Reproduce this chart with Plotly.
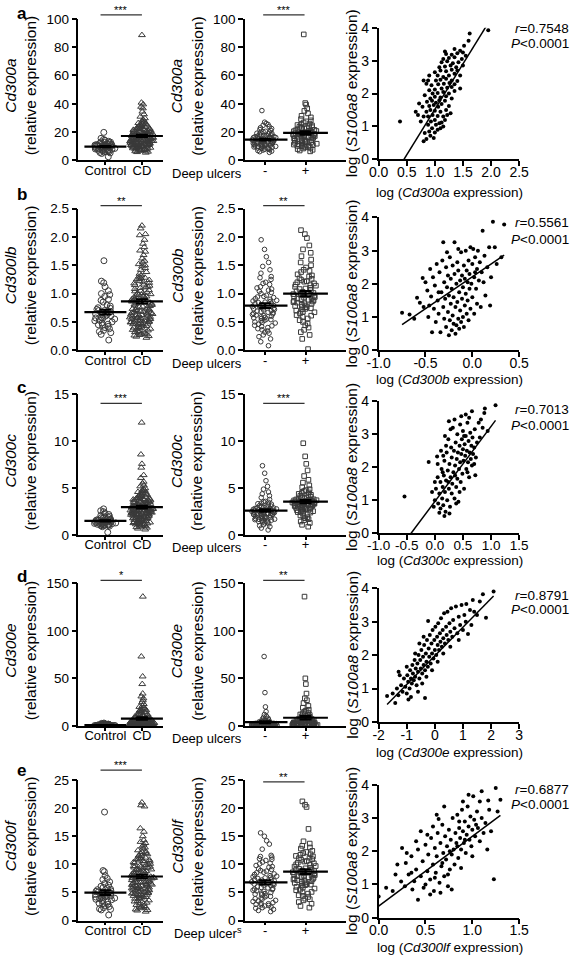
import numpy as np
import plotly.graph_objects as go

FONT = "Arial, Liberation Sans, Helvetica, sans-serif"
W, H = 584, 965

# ---------------- data ----------------
row_letters = ["a", "b", "c", "d", "e"]
gene_col1 = ["Cd300a", "Cd300lb", "Cd300c", "Cd300e", "Cd300f"]
gene_col2 = ["Cd300a", "Cd300b", "Cd300c", "Cd300e", "Cd300lf"]
gene_col3 = ["Cd300a", "Cd300b", "Cd300c", "Cd300e", "Cd300lf"]
group_labels_1 = ["Control", "CD"]
group_labels_2 = ["-", "+"]
sig_col1 = ["***", "**", "***", "*", "***"]
sig_col2 = ["***", "**", "***", "**", "**"]
r_values = ["0.7548", "0.5561", "0.7013", "0.8791", "0.6877"]
fit_slope = [2.76, 1.92, 2.28, 0.856, 2.10]
fit_intercept = [-1.24, 2.21, 0.96, 1.977, 0.35]

strip_yrange = [(0, 100, 20, ""), (0, 2.5, 0.5, ".1f"), (0, 15, 5, ""), (0, 150, 50, ""), (0, 25, 5, "")]
scat_xrange = [(0, 2.5, 0.5, 1), (-1, 0.5, 0.5, 1), (-1, 1.5, 0.5, 1), (-2, 3, 1, 0), (0, 1.5, 0.5, 1)]

ctrl_a = [19.8, 15.6, 14.8, 14.2, 13.5, 13.1, 12.7, 12.4, 12.0, 11.8, 11.5, 11.2, 11.0, 10.8, 10.6, 10.4, 10.2, 10.0, 9.9, 9.7, 9.5, 9.3, 9.1, 8.9, 8.7, 8.5, 8.3, 8.1, 7.9, 7.7, 7.5, 7.2, 7.0, 6.8, 6.5, 6.2, 5.9, 5.6, 5.3, 4.9, 2.6, 10.3, 9.6, 11.4, 12.9]
cd_a = [88.5, 40.8, 39.6, 37.9, 36.8, 34.5, 32.6, 30.9, 29.8, 28.7, 28.1, 27.5, 26.9, 26.4, 25.9, 25.5, 25.0, 24.6, 24.2, 23.8, 23.5, 23.1, 22.8, 22.5, 22.2, 21.9, 21.6, 21.3, 21.0, 20.8, 20.5, 20.3, 20.1, 19.8, 19.6, 19.4, 19.2, 19.0, 18.8, 18.6, 18.4, 18.2, 18.0, 17.8, 17.6, 17.4, 17.2, 17.0, 16.8, 16.6, 16.5, 16.3, 16.1, 15.9, 15.8, 15.6, 15.4, 15.2, 15.1, 14.9, 14.7, 14.6, 14.4, 14.2, 14.1, 13.9, 13.8, 13.6, 13.4, 13.3, 13.1, 13.0, 12.8, 12.7, 12.5, 12.4, 12.2, 12.1, 11.9, 11.8, 11.6, 11.5, 11.3, 11.2, 11.0, 10.9, 10.7, 10.6, 10.4, 10.3, 10.1, 10.0, 9.8, 9.7, 9.5, 9.4, 9.2, 9.0, 8.8, 8.6, 8.4, 8.2, 8.0, 7.8, 7.6, 7.4, 7.2, 7.0, 6.8, 6.5, 6.2, 5.9, 5.5, 17.5, 18.5, 16.0, 14.0, 12.0, 19.5, 20.7, 22.0, 15.5, 13.5, 11.5, 10.5, 9.9, 16.7, 18.9, 21.5, 24.5, 26.1, 23.3, 17.9, 14.5, 12.6, 11.1, 13.7, 15.0]
neg_a = [35.2, 27.0, 26.1, 25.4, 24.8, 23.9, 23.1, 22.5, 21.8, 21.2, 20.6, 20.1, 19.7, 19.2, 18.8, 18.4, 18.0, 17.6, 17.3, 17.0, 16.7, 16.4, 16.1, 15.8, 15.5, 15.3, 15.0, 14.8, 14.5, 14.3, 14.0, 13.8, 13.6, 13.3, 13.1, 12.9, 12.7, 12.5, 12.3, 12.1, 11.9, 11.7, 11.5, 11.3, 11.1, 10.9, 10.7, 10.5, 10.3, 10.1, 9.9, 9.7, 9.5, 9.3, 9.0, 8.8, 8.5, 8.2, 7.9, 7.6, 7.3, 7.0, 6.6, 6.2, 5.7, 16.2, 14.6, 13.5, 15.9, 17.8, 12.0, 10.8, 19.0, 14.1, 11.6, 16.9, 13.9, 15.2, 20.3, 9.2]
pos_a = [89.0, 40.5, 39.4, 36.8, 35.0, 33.2, 31.5, 30.4, 29.2, 28.3, 27.6, 26.8, 26.0, 25.3, 24.7, 24.1, 23.5, 23.0, 22.5, 22.0, 21.6, 21.2, 20.8, 20.4, 20.0, 19.6, 19.3, 19.0, 18.7, 18.4, 18.1, 17.8, 17.5, 17.2, 16.9, 16.6, 16.3, 16.0, 15.7, 15.4, 15.1, 14.8, 14.5, 14.2, 13.9, 13.6, 13.3, 13.0, 12.7, 12.4, 12.1, 11.8, 11.5, 11.2, 10.9, 10.6, 10.3, 10.0, 9.6, 9.2, 8.8, 8.4, 8.0, 7.5, 7.0, 6.4, 19.8, 18.2, 20.6, 22.8, 17.1, 15.5, 21.0, 23.8, 16.7, 14.0, 12.9, 18.9, 25.0, 11.0]

ctrl_b = [1.58, 1.22, 1.19, 1.12, 1.05, 1.00, 0.98, 0.95, 0.90, 0.85, 0.80, 0.78, 0.75, 0.72, 0.70, 0.68, 0.66, 0.65, 0.63, 0.62, 0.60, 0.58, 0.56, 0.55, 0.53, 0.52, 0.50, 0.48, 0.46, 0.44, 0.42, 0.40, 0.38, 0.35, 0.33, 0.31, 0.28, 0.18, 0.70, 0.64, 0.57, 0.88, 0.74, 0.45, 0.61]
cd_b = [2.20, 2.15, 2.05, 2.03, 1.95, 1.88, 1.82, 1.76, 1.74, 1.68, 1.62, 1.58, 1.55, 1.52, 1.50, 1.48, 1.45, 1.42, 1.38, 1.35, 1.32, 1.30, 1.28, 1.26, 1.24, 1.22, 1.20, 1.18, 1.16, 1.14, 1.12, 1.10, 1.08, 1.06, 1.04, 1.02, 1.00, 0.99, 0.97, 0.95, 0.94, 0.92, 0.91, 0.89, 0.88, 0.86, 0.85, 0.84, 0.82, 0.81, 0.80, 0.78, 0.77, 0.76, 0.74, 0.73, 0.72, 0.70, 0.69, 0.68, 0.67, 0.66, 0.64, 0.63, 0.62, 0.61, 0.60, 0.59, 0.58, 0.57, 0.56, 0.55, 0.54, 0.53, 0.52, 0.51, 0.50, 0.49, 0.48, 0.47, 0.46, 0.45, 0.44, 0.43, 0.42, 0.41, 0.40, 0.39, 0.38, 0.37, 0.36, 0.35, 0.34, 0.33, 0.32, 0.31, 0.30, 0.29, 0.28, 0.27, 0.26, 0.25, 0.24, 0.22, 0.90, 0.87, 0.83, 0.79, 0.75, 0.71, 0.65, 0.60, 0.58, 0.55, 0.52, 0.49, 0.46, 0.62, 0.66, 0.93, 1.01, 1.11, 1.19, 1.25, 0.96, 0.84, 0.72, 0.63, 0.57, 0.53, 0.50, 0.47, 1.05, 1.15, 1.27, 0.98, 0.86, 0.68]
neg_b = [1.95, 1.78, 1.65, 1.55, 1.48, 1.42, 1.36, 1.30, 1.25, 1.20, 1.16, 1.12, 1.08, 1.04, 1.00, 0.97, 0.94, 0.91, 0.88, 0.86, 0.84, 0.82, 0.80, 0.78, 0.76, 0.74, 0.72, 0.70, 0.68, 0.66, 0.64, 0.62, 0.60, 0.58, 0.56, 0.54, 0.52, 0.50, 0.48, 0.46, 0.44, 0.42, 0.40, 0.38, 0.36, 0.34, 0.32, 0.30, 0.27, 0.24, 0.20, 0.15, 0.08, 0.85, 0.77, 0.69, 0.61, 0.55, 0.90, 0.95, 1.02, 1.10, 0.73, 0.65, 0.57, 0.49, 0.43, 1.18, 1.28, 0.83, 0.79, 0.71, 0.63, 0.59, 0.87, 0.93, 0.67, 0.53, 0.75, 1.06]
pos_b = [2.12, 2.05, 1.98, 1.85, 1.78, 1.72, 1.66, 1.60, 1.55, 1.50, 1.46, 1.42, 1.38, 1.34, 1.30, 1.27, 1.24, 1.21, 1.18, 1.15, 1.12, 1.09, 1.06, 1.03, 1.00, 0.98, 0.96, 0.94, 0.92, 0.90, 0.88, 0.86, 0.84, 0.82, 0.80, 0.78, 0.76, 0.74, 0.72, 0.70, 0.68, 0.65, 0.62, 0.59, 0.56, 0.53, 0.50, 0.47, 0.44, 0.40, 0.36, 0.32, 0.27, 0.20, 0.02, 1.01, 0.97, 0.93, 0.89, 1.08, 1.14, 1.20, 1.26, 0.85, 0.79, 0.73, 1.32, 1.40, 0.99, 1.04, 0.91, 0.83, 0.67, 1.10, 1.16, 0.95, 0.87, 1.22, 0.77, 0.61]

ctrl_c = [2.8, 2.6, 2.5, 2.35, 2.2, 2.1, 2.0, 1.95, 1.9, 1.85, 1.8, 1.75, 1.7, 1.65, 1.62, 1.58, 1.55, 1.52, 1.5, 1.48, 1.45, 1.42, 1.4, 1.38, 1.35, 1.32, 1.3, 1.28, 1.25, 1.22, 1.2, 1.18, 1.15, 1.12, 1.1, 1.08, 1.05, 1.02, 1.0, 0.95, 0.9, 0.3, 1.6, 1.47, 1.36]
cd_c = [12.0, 8.6, 7.6, 7.2, 6.4, 6.1, 5.7, 5.5, 5.3, 5.2, 5.0, 4.9, 4.8, 4.7, 4.6, 4.5, 4.4, 4.3, 4.2, 4.1, 4.0, 3.95, 3.9, 3.85, 3.8, 3.75, 3.7, 3.65, 3.6, 3.55, 3.5, 3.45, 3.4, 3.35, 3.3, 3.25, 3.2, 3.15, 3.1, 3.05, 3.0, 2.97, 2.94, 2.91, 2.88, 2.85, 2.82, 2.79, 2.76, 2.73, 2.7, 2.67, 2.64, 2.61, 2.58, 2.55, 2.52, 2.49, 2.46, 2.43, 2.4, 2.37, 2.34, 2.31, 2.28, 2.25, 2.22, 2.19, 2.16, 2.13, 2.1, 2.06, 2.02, 1.98, 1.94, 1.9, 1.86, 1.82, 1.78, 1.74, 1.7, 1.65, 1.6, 1.55, 1.5, 1.45, 1.4, 1.35, 1.3, 1.25, 1.2, 1.15, 1.1, 1.05, 1.0, 0.95, 0.9, 0.85, 0.8, 0.7, 0.6, 2.9, 2.8, 3.02, 3.12, 3.22, 2.72, 2.62, 2.53, 3.32, 3.42, 2.44, 2.35, 3.52, 3.62, 2.26, 2.17, 3.72, 3.82, 2.08, 1.99, 3.92, 4.05, 1.88, 1.79, 4.15, 4.25, 1.69, 1.58, 4.35, 4.55, 1.48, 1.38, 4.75, 2.98, 3.08, 2.68, 2.58, 1.28, 1.18]
neg_c = [7.4, 6.6, 5.8, 5.2, 4.9, 4.6, 4.4, 4.2, 4.0, 3.8, 3.6, 3.5, 3.4, 3.3, 3.2, 3.1, 3.0, 2.95, 2.9, 2.85, 2.8, 2.75, 2.7, 2.65, 2.6, 2.55, 2.5, 2.45, 2.4, 2.35, 2.3, 2.25, 2.2, 2.15, 2.1, 2.05, 2.0, 1.95, 1.9, 1.85, 1.8, 1.75, 1.7, 1.65, 1.6, 1.55, 1.5, 1.45, 1.4, 1.35, 1.3, 1.2, 1.1, 1.0, 0.9, 0.75, 0.55, 2.52, 2.42, 2.32, 2.62, 2.72, 2.22, 2.12, 2.82, 2.92, 3.05, 1.98, 1.88, 3.15, 2.48, 2.38, 2.58, 2.68, 2.18, 1.78, 3.35, 3.55, 1.68, 2.28]
pos_c = [9.8, 8.4, 7.6, 6.9, 6.3, 5.9, 5.6, 5.3, 5.1, 4.9, 4.7, 4.5, 4.4, 4.3, 4.2, 4.1, 4.0, 3.9, 3.8, 3.75, 3.7, 3.65, 3.6, 3.55, 3.5, 3.45, 3.4, 3.35, 3.3, 3.25, 3.2, 3.15, 3.1, 3.05, 3.0, 2.95, 2.9, 2.85, 2.8, 2.75, 2.7, 2.65, 2.6, 2.5, 2.4, 2.3, 2.2, 2.1, 2.0, 1.9, 1.8, 1.7, 1.6, 1.45, 1.3, 1.1, 0.9, 3.52, 3.42, 3.62, 3.32, 3.72, 3.22, 3.82, 3.12, 3.92, 3.02, 4.05, 2.92, 4.25, 2.82, 3.48, 3.38, 3.58, 4.55, 2.55, 3.28, 3.68, 4.8, 2.45]

ctrl_d = [3.0, 2.6, 2.3, 2.1, 1.9, 1.8, 1.6, 1.5, 1.4, 1.3, 1.2, 1.1, 1.0, 0.95, 0.9, 0.85, 0.8, 0.75, 0.7, 0.65, 0.6, 0.55, 0.5, 0.45, 0.4, 0.38, 0.35, 0.32, 0.3, 0.28, 0.25, 0.22, 0.2, 0.18, 0.15, 0.12, 0.1, 0.08, 0.6, 0.9, 1.15, 0.42, 0.7, 1.7, 0.33]
cd_d = [136, 73, 52, 44, 34, 31, 29, 27, 25, 23, 21, 20, 19, 18, 17.5, 17, 16.5, 16, 15.5, 15, 14.5, 14, 13, 12, 11.5, 11, 10.5, 10, 9.5, 9, 8.5, 8, 7.6, 7.2, 6.8, 6.4, 6.0, 5.7, 5.4, 5.1, 4.8, 4.6, 4.4, 4.2, 4.0, 3.8, 3.6, 3.4, 3.2, 3.0, 2.9, 2.8, 2.7, 2.6, 2.5, 2.4, 2.3, 2.2, 2.1, 2.0, 1.9, 1.8, 1.7, 1.6, 1.5, 1.45, 1.4, 1.35, 1.3, 1.25, 1.2, 1.15, 1.1, 1.05, 1.0, 0.95, 0.9, 0.85, 0.8, 0.75, 0.7, 0.65, 0.6, 0.55, 0.5, 0.45, 0.4, 0.35, 0.3, 0.25, 0.2, 0.15, 0.1, 5.5, 4.9, 4.3, 3.7, 3.1, 2.65, 2.35, 2.05, 1.75, 1.55, 1.32, 1.12, 0.98, 0.82, 0.68, 0.52, 0.38, 0.28, 7.0, 6.2, 5.8, 3.3, 2.75, 2.15, 1.65, 1.22, 0.88, 0.62, 0.42, 12.5, 9.8, 8.8, 6.6, 3.9, 3.5, 2.45, 1.85, 1.48, 1.08, 0.72, 0.48, 0.32, 0.18]
neg_d = [73, 35, 20, 15, 12, 10, 8, 7, 6, 5.5, 5, 4.5, 4, 3.6, 3.3, 3.0, 2.8, 2.6, 2.4, 2.2, 2.0, 1.9, 1.8, 1.7, 1.6, 1.5, 1.4, 1.3, 1.2, 1.1, 1.0, 0.95, 0.9, 0.85, 0.8, 0.75, 0.7, 0.65, 0.6, 0.55, 0.5, 0.45, 0.4, 0.35, 0.3, 0.25, 0.2, 0.15, 0.1, 2.1, 1.75, 1.45, 1.15, 0.88, 0.62, 0.42, 0.28, 3.8, 2.9, 2.3, 1.65, 1.25, 0.98, 0.72, 0.52, 0.32, 0.18, 4.2, 3.2, 2.5, 1.95, 1.55, 1.05, 0.78, 0.58, 0.38, 9, 6.5, 2.7, 1.35]
pos_d = [136, 50, 44, 34, 29, 27, 24, 21, 19, 17, 15, 14, 13, 12, 11, 10, 9, 8.5, 8, 7.5, 7, 6.5, 6, 5.5, 5, 4.6, 4.2, 3.8, 3.5, 3.2, 3.0, 2.8, 2.6, 2.4, 2.2, 2.0, 1.8, 1.6, 1.4, 1.2, 1.0, 0.9, 0.8, 0.7, 0.6, 0.5, 0.4, 0.3, 0.2, 4.4, 3.6, 2.9, 2.3, 1.9, 1.5, 1.1, 0.85, 0.65, 0.45, 6.2, 5.2, 3.3, 2.7, 2.1, 1.7, 1.3, 0.95, 0.75, 0.55, 0.35, 16, 11.5, 9.5, 7.2, 4.8, 3.9, 2.5, 1.45, 1.05, 0.25]

ctrl_e = [19.3, 8.9, 8.7, 8.0, 7.5, 7.3, 6.9, 6.6, 6.3, 6.1, 5.9, 5.7, 5.5, 5.3, 5.1, 5.0, 4.9, 4.8, 4.7, 4.6, 4.5, 4.4, 4.3, 4.2, 4.1, 4.0, 3.9, 3.7, 3.5, 3.3, 3.1, 2.9, 2.7, 2.5, 2.3, 2.1, 2.0, 1.9, 1.0, 4.65, 5.2, 3.8, 4.25, 5.6, 3.0]
cd_e = [21.0, 20.5, 20.3, 16.4, 15.8, 15.0, 14.3, 14.0, 13.8, 13.5, 13.2, 13.0, 12.8, 12.5, 12.3, 12.0, 11.8, 11.6, 11.4, 11.2, 11.0, 10.8, 10.6, 10.4, 10.2, 10.0, 9.8, 9.6, 9.4, 9.2, 9.0, 8.8, 8.6, 8.4, 8.2, 8.0, 7.9, 7.8, 7.7, 7.6, 7.5, 7.4, 7.3, 7.2, 7.1, 7.0, 6.9, 6.8, 6.7, 6.6, 6.5, 6.4, 6.3, 6.2, 6.1, 6.0, 5.9, 5.8, 5.7, 5.6, 5.5, 5.4, 5.3, 5.2, 5.1, 5.0, 4.9, 4.8, 4.7, 4.6, 4.5, 4.4, 4.3, 4.2, 4.1, 4.0, 3.8, 3.6, 3.4, 3.2, 3.0, 2.8, 2.6, 2.4, 2.2, 2.0, 1.8, 1.6, 7.55, 7.65, 7.45, 7.35, 8.1, 8.3, 8.5, 8.7, 8.9, 9.1, 9.3, 9.5, 9.7, 9.9, 10.1, 10.3, 10.5, 10.7, 10.9, 11.1, 6.95, 6.85, 6.75, 6.55, 6.35, 6.15, 5.95, 5.75, 5.55, 5.35, 5.15, 4.95, 4.75, 4.55, 11.5, 11.9, 12.2, 8.05, 8.25, 7.85, 4.35, 3.9, 3.5, 3.1, 2.7, 2.3, 1.9, 9.05, 9.45, 7.75]
neg_e = [15.6, 15.0, 14.2, 13.6, 12.7, 11.6, 11.3, 11.0, 10.7, 10.4, 10.1, 9.8, 9.5, 9.2, 8.9, 8.6, 8.3, 8.0, 7.8, 7.6, 7.4, 7.2, 7.0, 6.8, 6.6, 6.4, 6.2, 6.0, 5.8, 5.6, 5.4, 5.2, 5.0, 4.8, 4.6, 4.4, 4.2, 4.0, 3.8, 3.6, 3.4, 3.2, 3.0, 2.8, 2.6, 2.4, 2.2, 2.0, 1.8, 1.6, 6.7, 6.5, 6.3, 6.9, 7.1, 5.9, 5.7, 7.3, 7.5, 5.5, 5.3, 7.7, 7.9, 8.2, 4.9, 4.7, 8.5, 8.8, 4.3, 3.9, 9.1, 9.6, 3.5, 3.1, 10.2, 10.9, 2.7, 2.3, 11.4, 2.9]
pos_e = [21.2, 20.6, 20.2, 16.3, 14.1, 13.7, 13.3, 12.8, 12.4, 12.0, 11.7, 11.4, 11.1, 10.8, 10.5, 10.2, 9.9, 9.6, 9.3, 9.0, 8.8, 8.6, 8.4, 8.2, 8.0, 7.8, 7.6, 7.4, 7.2, 7.0, 6.8, 6.6, 6.4, 6.2, 6.0, 5.7, 5.4, 5.1, 4.8, 4.5, 4.2, 3.9, 3.6, 3.3, 3.0, 2.6, 2.3, 8.7, 8.5, 8.9, 8.3, 9.1, 8.1, 9.4, 7.9, 9.7, 7.7, 10.0, 7.5, 10.3, 7.3, 10.6, 7.1, 10.9, 6.9, 11.2, 6.7, 11.5, 6.5, 11.8, 6.3, 12.2, 5.9, 5.5, 5.0, 4.4, 3.8, 13.0, 9.2, 8.0]

# log-log correlation points (x = log Cd300 gene, y = log S100a8)
sc_a = [(0.80,0.55),(0.85,0.62),(0.92,0.72),(0.98,0.65),(0.82,0.80),(0.90,0.85),(1.00,0.82),(1.05,0.90),(1.10,0.95),(1.15,1.00),
        (0.95,0.95),(0.88,1.05),(1.02,1.05),(1.08,1.10),(1.12,1.12),(0.75,1.15),(0.38,1.15),(0.93,1.15),(1.18,1.20),(1.00,1.20),
        (0.70,1.35),(0.80,1.30),(0.88,1.30),(0.96,1.35),(1.05,1.32),(1.15,1.30),(1.22,1.35),(0.66,1.45),(0.85,1.45),(0.92,1.50),
        (1.00,1.48),(1.10,1.45),(1.20,1.50),(1.28,1.40),(0.78,1.60),(0.90,1.62),(0.98,1.65),(1.06,1.60),(1.12,1.68),(1.25,1.62),
        (0.72,1.70),(0.86,1.75),(0.95,1.78),(1.02,1.72),(1.18,1.78),(1.08,1.80),(0.92,1.85),(1.00,1.90),(1.10,1.88),(1.20,1.92),
        (1.30,1.85),(0.82,1.95),(0.96,2.00),(1.05,2.02),(1.15,2.05),(1.25,2.00),(1.35,2.08),(0.90,2.10),(1.00,2.12),(1.12,2.15),
        (1.22,2.18),(1.30,2.20),(1.45,2.15),(0.94,2.25),(1.06,2.28),(1.16,2.30),(1.26,2.32),(1.35,2.28),(0.80,2.40),(1.02,2.40),
        (1.10,2.42),(1.20,2.45),(1.30,2.40),(1.40,2.38),(0.90,2.55),(1.15,2.50),(1.05,2.55),(1.25,2.55),(1.35,2.60),(1.45,2.55),
        (1.00,2.65),(1.10,2.70),(1.20,2.68),(1.30,2.72),(1.40,2.70),(1.08,2.80),(1.18,2.82),(1.28,2.85),(1.38,2.80),(1.50,2.85),
        (1.12,2.95),(1.22,2.98),(1.32,2.92),(1.42,2.95),(1.15,3.05),(1.25,3.08),(1.35,3.10),(1.48,3.05),(1.20,3.20),(1.30,3.18),
        (1.40,3.22),(1.50,3.25),(1.55,3.15),(1.18,3.28),(1.45,3.30),(1.35,3.35),(1.52,3.45),(1.60,3.60),(1.62,3.82),(1.95,3.92),
        (0.88,2.40),(0.85,2.30)]
sc_b = [(-0.75,1.13),(-0.67,1.08),(-0.62,0.95),(-0.59,1.58),(-0.56,1.43),(-0.53,2.18),(-0.50,2.05),(-0.52,1.30),(-0.48,1.80),(-0.47,1.00),
        (-0.45,2.45),(-0.44,1.62),(-0.43,0.54),(-0.42,2.20),(-0.41,1.25),(-0.40,1.95),(-0.39,0.85),(-0.38,2.60),(-0.37,1.50),(-0.36,1.10),
        (-0.35,2.35),(-0.34,0.54),(-0.33,1.75),(-0.32,2.70),(-0.31,3.25),(-0.31,1.30),(-0.30,2.05),(-0.30,0.95),(-0.29,1.55),(-0.28,2.50),
        (-0.28,0.70),(-0.27,1.90),(-0.26,2.25),(-0.26,1.15),(-0.25,0.45),(-0.25,1.65),(-0.24,2.80),(-0.24,0.90),(-0.23,1.40),(-0.23,2.15),
        (-0.22,0.60),(-0.22,1.85),(-0.21,2.55),(-0.21,1.05),(-0.20,0.80),(-0.20,1.60),(-0.19,3.25),(-0.19,2.30),(-0.18,0.50),(-0.18,1.30),
        (-0.17,2.00),(-0.17,0.75),(-0.16,2.65),(-0.16,1.45),(-0.15,0.95),(-0.15,2.40),(-0.14,1.75),(-0.14,0.65),(-0.13,2.10),(-0.13,1.20),
        (-0.12,2.95),(-0.12,0.85),(-0.11,1.55),(-0.11,2.25),(-0.10,1.00),(-0.10,1.90),(-0.09,2.55),(-0.09,0.70),(-0.08,1.35),(-0.08,2.15),
        (-0.07,3.00),(-0.07,1.70),(-0.06,2.40),(-0.06,1.10),(-0.05,2.05),(-0.05,1.50),(-0.04,2.70),(-0.04,0.90),(-0.03,1.85),(-0.03,2.30),
        (-0.02,3.10),(-0.02,1.25),(-0.01,2.00),(0.00,2.60),(0.00,1.60),(0.01,3.05),(0.02,2.20),(0.02,1.10),(0.03,2.80),(0.04,1.85),
        (0.05,2.45),(0.05,1.40),(0.06,3.00),(0.07,2.10),(0.08,2.65),(0.09,1.30),(0.10,2.35),(0.11,3.60),(0.12,2.05),(0.13,2.85),
        (0.14,1.65),(0.16,2.50),(0.18,3.10),(0.19,1.35),(0.20,2.20),(0.22,3.87),(0.24,3.10),(0.26,2.60),(0.31,2.80),(0.34,3.79),
        (-0.36,1.75),(-0.27,2.95),(-0.15,3.05),(0.03,2.35),(-0.46,1.35)]
sc_c = [(-0.54,1.11),(-0.11,2.16),(0.04,2.33),(0.89,3.78),(1.08,3.88),(0.88,3.65),(0.61,3.50),(0.94,3.10),(0.72,1.76),(0.17,0.52),
        (0.08,0.62),(0.00,1.00),(0.02,1.35),(0.05,1.70),(0.06,0.90),(0.08,1.20),(0.10,1.55),(0.10,0.75),(0.12,1.95),(0.13,1.05),
        (0.14,1.40),(0.15,0.85),(0.16,1.75),(0.17,2.20),(0.18,1.25),(0.19,0.65),(0.20,1.60),(0.21,2.45),(0.22,1.00),(0.23,1.90),
        (0.24,2.85),(0.25,1.35),(0.26,2.10),(0.27,0.80),(0.28,1.70),(0.29,2.60),(0.30,1.20),(0.30,2.30),(0.31,1.50),(0.32,3.20),
        (0.33,1.85),(0.34,2.50),(0.35,1.05),(0.36,2.05),(0.37,2.75),(0.38,1.40),(0.39,2.25),(0.40,3.00),(0.40,1.65),(0.41,2.45),
        (0.42,0.95),(0.43,1.95),(0.44,2.65),(0.45,3.30),(0.45,2.15),(0.46,1.55),(0.47,2.40),(0.48,2.85),(0.49,1.80),(0.50,2.55),
        (0.50,3.10),(0.51,2.20),(0.52,1.35),(0.53,2.70),(0.54,2.35),(0.55,2.95),(0.56,1.95),(0.57,2.50),(0.58,3.35),(0.59,2.15),
        (0.60,2.80),(0.61,1.70),(0.62,2.45),(0.63,3.05),(0.64,2.25),(0.65,2.65),(0.66,2.05),(0.67,2.90),(0.68,2.40),(0.70,2.60),
        (0.71,3.15),(0.73,2.30),(0.75,2.75),(0.78,3.35),(0.80,2.90),(0.82,3.45),(0.85,3.20),(0.47,3.55),(0.35,3.45),(0.25,3.40),
        (0.20,2.65),(0.15,2.35),(0.05,2.10),(0.00,1.55),(-0.05,1.25),(-0.02,0.80),(0.11,2.50),(0.18,2.95),(0.28,3.15),(0.55,3.60),
        (0.66,3.70),(0.38,0.90),(0.26,0.60),(0.44,1.25),(0.58,1.85),(0.70,2.10),(0.36,1.75),(0.24,1.55),(0.14,1.85),(0.52,2.95)]
sc_d = [(2.09,3.90),(1.71,3.82),(1.12,3.53),(1.82,3.12),(1.18,2.63),(-0.24,3.02),(-1.29,1.50),(-1.41,0.57),(-1.70,0.78),(-0.94,0.67),
        (-0.35,0.72),(-1.50,0.85),(-1.35,1.00),(-1.30,0.80),(-1.20,1.10),(-1.15,0.90),(-1.10,1.30),(-1.05,1.05),(-1.00,0.85),(-0.98,1.40),
        (-0.95,1.20),(-0.90,1.00),(-0.88,1.55),(-0.85,1.30),(-0.82,1.15),(-0.80,1.70),(-0.78,1.45),(-0.75,1.25),(-0.72,1.85),(-0.70,1.35),
        (-0.68,1.60),(-0.65,1.10),(-0.62,1.75),(-0.60,1.50),(-0.58,2.00),(-0.55,1.30),(-0.52,1.85),(-0.50,1.60),(-0.48,2.15),(-0.45,1.45),
        (-0.42,1.95),(-0.40,1.70),(-0.38,2.30),(-0.35,1.55),(-0.32,2.05),(-0.30,1.80),(-0.28,2.45),(-0.25,1.65),(-0.22,2.20),(-0.20,1.95),
        (-0.18,2.60),(-0.15,1.75),(-0.12,2.35),(-0.10,2.05),(-0.08,2.75),(-0.05,1.90),(-0.02,2.45),(0.00,2.15),(0.02,2.85),(0.05,2.00),
        (0.08,2.55),(0.10,2.30),(0.12,2.95),(0.15,2.15),(0.18,2.65),(0.20,2.40),(0.22,3.10),(0.25,2.25),(0.28,2.75),(0.30,2.50),
        (0.33,3.25),(0.36,2.35),(0.40,2.85),(0.42,2.60),(0.45,3.30),(0.48,2.45),(0.52,2.95),(0.55,2.70),(0.58,3.40),(0.62,2.55),
        (0.65,3.05),(0.70,2.80),(0.75,3.45),(0.80,2.65),(0.85,3.15),(0.90,2.90),(0.95,3.50),(1.00,2.75),(1.05,3.20),(1.10,3.00),
        (1.25,3.35),(1.30,2.90),(1.40,3.30),(1.50,3.20),(1.60,3.60),(1.35,3.65),(-0.60,0.90),(-0.45,1.15),(-0.30,1.35),(-0.10,1.55),
        (-1.00,1.65),(-0.70,2.05),(-0.55,2.35),(0.10,1.80),(0.30,2.05),(0.55,2.25),(-1.25,1.40),(-0.85,0.75),(0.85,2.45),(-0.40,2.55)]
sc_e = [(1.25,3.91),(1.10,3.81),(1.01,3.66),(1.17,3.53),(1.27,3.20),(1.23,1.16),(0.64,2.97),(0.20,1.60),(0.29,1.65),(0.42,0.54),
        (0.00,0.64),(0.24,1.09),(0.28,0.95),(0.32,1.30),(0.35,1.85),(0.38,1.10),(0.40,1.45),(0.42,2.05),(0.45,1.25),(0.47,1.70),
        (0.48,0.90),(0.50,2.20),(0.52,1.40),(0.53,1.90),(0.55,1.15),(0.56,2.40),(0.58,1.60),(0.59,0.80),(0.60,2.10),(0.61,1.35),
        (0.62,1.85),(0.63,2.55),(0.65,1.05),(0.66,2.25),(0.67,1.55),(0.68,2.80),(0.69,1.95),(0.70,1.25),(0.71,2.45),(0.72,1.75),
        (0.73,2.15),(0.74,0.95),(0.75,2.65),(0.76,1.45),(0.77,2.35),(0.78,1.90),(0.79,3.00),(0.80,2.05),(0.81,1.60),(0.82,2.55),
        (0.83,2.25),(0.84,3.10),(0.85,1.80),(0.86,2.70),(0.87,2.40),(0.88,2.05),(0.89,3.25),(0.90,2.60),(0.91,2.25),(0.92,2.90),
        (0.93,1.95),(0.94,2.50),(0.95,3.35),(0.96,2.75),(0.97,2.35),(0.98,3.05),(0.99,2.15),(1.00,2.65),(1.02,2.95),(1.03,2.45),
        (1.05,3.20),(1.06,2.70),(1.08,2.30),(1.10,3.00),(1.12,2.55),(1.14,2.85),(1.16,2.05),(1.18,3.25),(1.20,2.60),(1.30,3.55),
        (0.55,0.70),(0.45,2.60),(0.35,1.35),(0.15,0.80),(0.25,2.10),(0.62,3.10),(0.70,3.35),(0.78,0.85),(0.88,1.50),(0.50,1.00),
        (0.60,1.20),(0.68,1.65),(0.76,2.00),(0.84,2.15),(0.92,2.35),(1.00,1.85),(1.08,3.50),(0.96,3.70),(0.58,2.75),(0.40,2.30),
        (0.30,1.95),(0.66,0.75),(0.74,1.30),(0.86,2.90),(1.04,2.80),(0.90,3.50),(0.52,2.50),(0.36,0.85),(0.18,1.30),(0.08,0.90)]

col1_data = [(ctrl_a, cd_a), (ctrl_b, cd_b), (ctrl_c, cd_c), (ctrl_d, cd_d), (ctrl_e, cd_e)]
col2_data = [(neg_a, pos_a), (neg_b, pos_b), (neg_c, pos_c), (neg_d, pos_d), (neg_e, pos_e)]
col3_data = [sc_a, sc_b, sc_c, sc_d, sc_e]

# ---------------- layout geometry (pixels) ----------------
strip_y = [(11, 155), (204, 348), (393, 536), (585, 730), (785, 928)]
scat_y = [(20, 154), (213, 348), (400, 534), (590, 726), (790, 925)]
col_x = [(69, 157), (242, 347), (381, 527)]
xtitle_y = [188, 378, 562, 757, 955]
letter_y = [6, 190, 386, 578, 775]
sig1_y = [7, 201, 402, 582, 775]
sig2_y = [7, 201, 402, 582, 787]
rp_y = [(21, 36), (218, 235), (408, 425), (597, 612), (795, 810)]
ytitle_x = [9, 182]


def px(x):
    return x / W


def py(y):
    return 1 - y / H


fig = go.Figure()
layout = dict(
    width=W, height=H, margin=dict(l=0, r=0, t=0, b=0),
    paper_bgcolor="white", plot_bgcolor="white", showlegend=False,
    font=dict(family=FONT, color="black", size=13),
    boxmode="overlay", boxgap=0.04,
)
annotations = []
shapes = []

AX = dict(showline=True, linecolor="black", linewidth=1.5, ticks="outside",
          tickwidth=1.5, tickcolor="black", showgrid=False, zeroline=False,
          fixedrange=True, tickangle=0)


def axname(k):
    return "" if k == 1 else str(k)


for i in range(5):
    for j in range(3):
        k = 3 * i + j + 1
        xa, ya = "x" + axname(k), "y" + axname(k)
        xd = [px(col_x[j][0]), px(col_x[j][1])]
        if j < 2:
            yd = [py(strip_y[i][1]), py(strip_y[i][0])]
            lo, hi, dt, fmt = strip_yrange[i]
            labels = group_labels_1 if j == 0 else group_labels_2
            data = col1_data[i] if j == 0 else col2_data[i]
            syms = ["circle-open", "triangle-up-open"] if j == 0 else ["circle-open", "square-open"]
            msize = 6 if j == 0 else 4.6
            for g in range(2):
                vals = np.array(data[g], dtype=float)
                fig.add_trace(go.Box(
                    x=[labels[g]] * len(vals), y=vals, xaxis=xa, yaxis=ya,
                    boxpoints="all", jitter=1.0, pointpos=0,
                    fillcolor="rgba(0,0,0,0)", line=dict(width=0, color="rgba(0,0,0,0)"),
                    marker=dict(symbol=syms[g], size=msize, color="#3a3a3a",
                                line=dict(width=1, color="#3a3a3a")),
                    hoverinfo="y"))
            for g in range(2):
                vals = np.array(data[g], dtype=float)
                m = vals.mean()
                sem = vals.std(ddof=1) / np.sqrt(len(vals))
                fig.add_trace(go.Scatter(
                    x=[labels[g]], y=[m], xaxis=xa, yaxis=ya, mode="markers",
                    marker=dict(symbol="line-ew", size=30 if j == 0 else 32,
                                line=dict(width=2.2, color="black")),
                    error_y=dict(type="data", array=[sem], width=6, thickness=2, color="black"),
                    hoverinfo="y"))
            xr = [-0.74, 1.58] if j == 0 else [-0.5, 2.0]
            layout["xaxis" + axname(k)] = dict(AX, domain=xd, anchor=ya, type="category",
                                              range=xr, ticklen=3, ticklabelstandoff=-6,
                                              tickfont=dict(size=13, family=FONT))
            layout["yaxis" + axname(k)] = dict(AX, domain=yd, anchor=xa, range=[lo, hi],
                                              dtick=dt, tick0=0, tickformat=fmt, ticklen=5,
                                              tickfont=dict(size=13.5, family=FONT))
            gname = gene_col1[i] if j == 0 else gene_col2[i]
            annotations.append(dict(
                x=px(ytitle_x[j]), y=py((strip_y[i][0] + strip_y[i][1]) / 2 - 4),
                xref="paper", yref="paper", textangle=-90, showarrow=False,
                text="<i>%s</i><br>(relative expression)" % gname,
                font=dict(size=15.5, family=FONT), xanchor="center", yanchor="middle"))
            if j == 0:
                x0, x1, sy, st = 92, 135, sig1_y[i], sig_col1[i]
            else:
                x0, x1, sy, st = 261, 304, sig2_y[i], sig_col2[i]
            shapes.append(dict(type="line", xref="paper", yref="paper",
                               x0=px(x0), x1=px(x1), y0=py(sy), y1=py(sy),
                               line=dict(color="#333", width=1.3)))
            annotations.append(dict(x=px((x0 + x1) / 2), y=py(sy + 3), xref="paper", yref="paper",
                                    text=st, showarrow=False, xanchor="center", yanchor="bottom",
                                    font=dict(size=11, family=FONT)))
            if j == 1:
                annotations.append(dict(
                    x=px(241), y=py(strip_y[i][1] + 13), xref="paper", yref="paper",
                    text="Deep ulcers" if i < 4 else "Deep ulcer<sup>s</sup>",
                    showarrow=False, xanchor="right", yanchor="middle",
                    font=dict(size=13, family=FONT)))
        else:
            yd = [py(scat_y[i][1]), py(scat_y[i][0])]
            pts = col3_data[i]
            xs = np.array([p[0] for p in pts])
            ys = np.array([p[1] for p in pts])
            fig.add_trace(go.Scatter(x=xs, y=ys, xaxis=xa, yaxis=ya, mode="markers",
                                     marker=dict(size=4, color="black"), hoverinfo="x+y"))
            lx = np.array([xs.min(), xs.max()])
            fig.add_trace(go.Scatter(x=lx, y=fit_slope[i] * lx + fit_intercept[i],
                                     xaxis=xa, yaxis=ya, mode="lines",
                                     line=dict(color="black", width=1.5), hoverinfo="skip"))
            lo, hi, dt, dec = scat_xrange[i]
            tv = list(np.round(np.arange(lo, hi + dt / 2, dt), 3))
            tt = [("%.*f" % (dec, v)) for v in tv]
            layout["xaxis" + axname(k)] = dict(AX, domain=xd, anchor=ya, range=[lo, hi],
                                              tickvals=tv, ticktext=tt, ticklen=5,
                                              ticklabelstandoff=-6,
                                              tickfont=dict(size=14 if i != 2 else 13.5, family=FONT))
            layout["yaxis" + axname(k)] = dict(AX, domain=yd, anchor=xa, range=[0, 4],
                                              dtick=1, ticklen=5,
                                              tickfont=dict(size=14, family=FONT))
            annotations.append(dict(
                x=px(353), y=py((scat_y[i][0] + scat_y[i][1]) / 2), xref="paper", yref="paper",
                textangle=-90, showarrow=False,
                text="log (<i>S100a8</i> expression)",
                font=dict(size=15.5, family=FONT), xanchor="center", yanchor="middle"))
            annotations.append(dict(
                x=px(455), y=py(xtitle_y[i]), xref="paper", yref="paper", showarrow=False,
                text="log (<i>%s</i> expression)" % gene_col3[i],
                font=dict(size=13.5, family=FONT), xanchor="center", yanchor="middle"))
            annotations.append(dict(
                x=px(581), y=py(rp_y[i][0]), xref="paper", yref="paper", showarrow=False,
                text="<i>r</i>=%s" % r_values[i], xanchor="right", yanchor="middle",
                font=dict(size=13.5, family=FONT)))
            annotations.append(dict(
                x=px(581), y=py(rp_y[i][1]), xref="paper", yref="paper", showarrow=False,
                text="<i>P</i><0.0001", xanchor="right", yanchor="middle",
                font=dict(size=13.5, family=FONT)))
    annotations.append(dict(
        x=px(3), y=py(letter_y[i]), xref="paper", yref="paper", showarrow=False,
        text="<b>%s</b>" % row_letters[i], xanchor="left", yanchor="middle",
        font=dict(size=17, family=FONT)))

layout["annotations"] = annotations
layout["shapes"] = shapes
fig.update_layout(**layout)
fig.write_html("out.html", config={"displayModeBar": False},
               post_script="document.body.style.margin='0';document.body.style.overflow='hidden';")
